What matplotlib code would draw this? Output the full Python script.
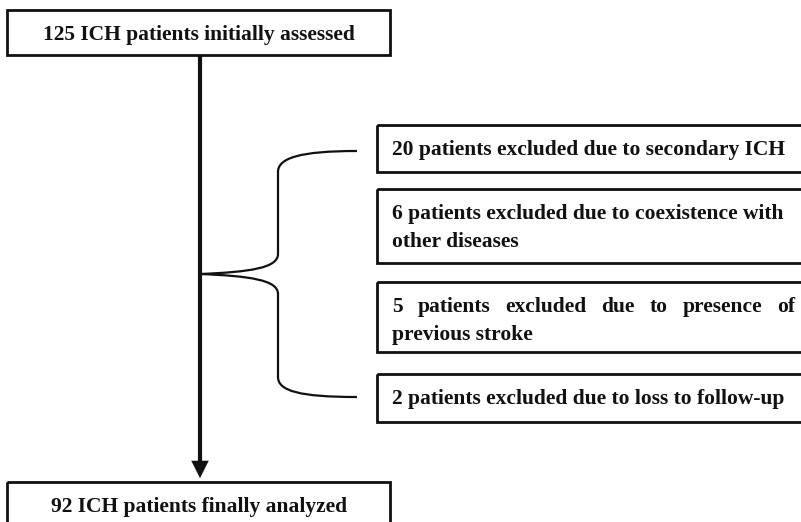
import matplotlib
matplotlib.use("Agg")
import matplotlib.pyplot as plt
from matplotlib.path import Path
from matplotlib.patches import PathPatch, Rectangle, FancyArrowPatch

# -- content ----------------------------------------------------
top_label = "125 ICH patients initially assessed"
bottom_label = "92 ICH patients finally analyzed"
excl_lines = [
    ["20 patients excluded due to secondary ICH"],
    ["6 patients excluded due to coexistence with", "other diseases"],
    ["5 patients excluded due to presence of", "previous stroke"],
    ["2 patients excluded due to loss to follow-up"],
]
justify = [[False], [False, False], [True, False], [False]]

W, H = 801, 522
FONT = dict(family="Liberation Serif", weight="bold", fontsize=15.5, color="#111111")

fig = plt.figure(figsize=(W / 100, H / 100), dpi=100)
ax = fig.add_axes([0, 0, 1, 1])
ax.set_xlim(0, W)
ax.set_ylim(H, 0)
ax.axis("off")

# -- main boxes -------------------------------------------------
def box(x0, y0, x1, y1, lw=2.0):
    ax.add_patch(Rectangle((x0, y0), x1 - x0, y1 - y0, fill=False,
                           ec="#111111", lw=lw, clip_on=False))

box(7, 10, 390, 55)
ax.text(199, 35, top_label, ha="center", va="center", **FONT)
box(7, 482, 390, 540)
ax.text(199, 507, bottom_label, ha="center", va="center", **FONT)

# main arrow
ax.plot([200, 200], [55, 470], color="#111111", lw=3, solid_capstyle="butt")
ax.add_patch(FancyArrowPatch((200, 466), (200, 481), arrowstyle="-|>,head_length=0.9,head_width=0.45",
                             mutation_scale=14, color="#111111", lw=0))

# -- brace ------------------------------------------------------
verts = [
    (357, 151), (300, 151), (278, 158), (278, 172),
    (278, 254),
    (278, 268), (250, 272), (200, 274),
    (250, 276), (278, 280), (278, 294),
    (278, 377),
    (278, 391), (300, 397), (357, 397),
]
codes = [Path.MOVETO, Path.CURVE4, Path.CURVE4, Path.CURVE4,
         Path.LINETO,
         Path.CURVE4, Path.CURVE4, Path.CURVE4,
         Path.CURVE4, Path.CURVE4, Path.CURVE4,
         Path.LINETO,
         Path.CURVE4, Path.CURVE4, Path.CURVE4]
ax.add_patch(PathPatch(Path(verts, codes), fill=False, ec="#111111", lw=1.6))

# -- exclusion boxes --------------------------------------------
box_y = [(125, 172), (189, 263), (282, 352), (374, 422)]
line_y = [[150], [214, 242], [307, 335], [399]]
tx0, tx1 = 392, 795

fig.canvas.draw()
renderer = fig.canvas.get_renderer()

for (y0, y1), lines, ys, jus in zip(box_y, excl_lines, line_y, justify):
    box(377, y0, 806, y1)
    for text, y, j in zip(lines, ys, jus):
        if not j:
            ax.text(tx0, y, text, ha="left", va="center", **FONT)
            continue
        words = text.split()
        arts = [ax.text(tx0, y, w, ha="left", va="center", **FONT) for w in words]
        widths = [a.get_window_extent(renderer).width for a in arts]
        gap = (tx1 - tx0 - sum(widths)) / (len(words) - 1)
        x = tx0
        for a, w in zip(arts, widths):
            a.set_x(x)
            x += w + gap

fig.savefig("out.png", dpi=100)
